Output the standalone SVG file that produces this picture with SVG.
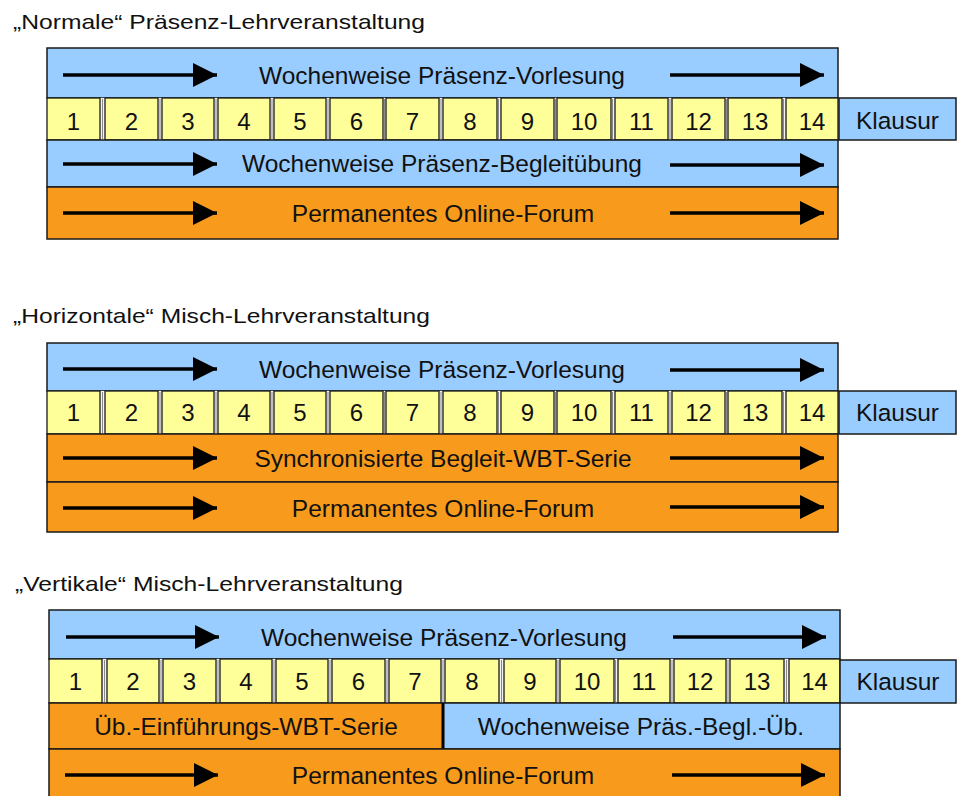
<svg xmlns="http://www.w3.org/2000/svg" width="957" height="796" viewBox="0 0 957 796">
<style>
.t{font-family:"Liberation Sans",Arial,sans-serif;fill:#111;}
.title{font-size:21px;}
.band{font-size:24.5px;text-anchor:middle;}
.num{font-size:24px;text-anchor:middle;}
.blue{fill:#99CCFF;stroke:#1a1a1a;stroke-width:1.5;}
.orange{fill:#F89A1C;stroke:#1a1a1a;stroke-width:1.5;}
.yel{fill:#FFFF99;stroke:#1a1a1a;stroke-width:1.3;}
.gap{fill:#f2f2f2;stroke:none;}
.gl{stroke:#8a8a8a;stroke-width:1;}
.arr{stroke:#000;stroke-width:3.5;fill:none;marker-end:url(#ah);}
</style>
<defs>
<marker id="ah" markerUnits="userSpaceOnUse" markerWidth="24" markerHeight="24" viewBox="0 0 22 22" refX="22" refY="11" orient="auto">
<path d="M0,0 L22,11 L0,22 Z" fill="#000"/>
</marker>
</defs>
<rect width="957" height="796" fill="#fff"/>

<!-- Section 1 -->
<g id="title1"><text class="t title" x="13" y="29" textLength="412" lengthAdjust="spacingAndGlyphs">„Normale“ Präsenz-Lehrveranstaltung</text></g>
<g id="s1-vorlesung"><rect class="blue" x="47" y="48" width="791" height="50"/><text class="t band" x="442" y="84">Wochenweise Präsenz-Vorlesung</text></g>
<g id="s1-numbers">
<rect class="gap" x="47" y="98" width="791" height="42"/>
<g class="gl"><line x1="102.5" y1="99" x2="102.5" y2="139"/><line x1="160" y1="99" x2="160" y2="139"/><line x1="216" y1="99" x2="216" y2="139"/><line x1="272" y1="99" x2="272" y2="139"/><line x1="328" y1="99" x2="328" y2="139"/><line x1="384.5" y1="99" x2="384.5" y2="139"/><line x1="441" y1="99" x2="441" y2="139"/><line x1="498.5" y1="99" x2="498.5" y2="139"/><line x1="555.5" y1="99" x2="555.5" y2="139"/><line x1="612.5" y1="99" x2="612.5" y2="139"/><line x1="670" y1="99" x2="670" y2="139"/><line x1="726.5" y1="99" x2="726.5" y2="139"/><line x1="783.5" y1="99" x2="783.5" y2="139"/></g>
<g id="s1-w1"><rect class="yel" x="47" y="98" width="53" height="42"/><text class="t num" x="73.5" y="130">1</text></g>
<g id="s1-w2"><rect class="yel" x="105" y="98" width="53" height="42"/><text class="t num" x="131.5" y="130">2</text></g>
<g id="s1-w3"><rect class="yel" x="162" y="98" width="52" height="42"/><text class="t num" x="188" y="130">3</text></g>
<g id="s1-w4"><rect class="yel" x="218" y="98" width="52" height="42"/><text class="t num" x="244" y="130">4</text></g>
<g id="s1-w5"><rect class="yel" x="274" y="98" width="52" height="42"/><text class="t num" x="300" y="130">5</text></g>
<g id="s1-w6"><rect class="yel" x="330" y="98" width="53" height="42"/><text class="t num" x="356.5" y="130">6</text></g>
<g id="s1-w7"><rect class="yel" x="386" y="98" width="53" height="42"/><text class="t num" x="412.5" y="130">7</text></g>
<g id="s1-w8"><rect class="yel" x="443" y="98" width="54" height="42"/><text class="t num" x="470" y="130">8</text></g>
<g id="s1-w9"><rect class="yel" x="501" y="98" width="53" height="42"/><text class="t num" x="527.5" y="130">9</text></g>
<g id="s1-w10"><rect class="yel" x="557" y="98" width="54" height="42"/><text class="t num" x="584" y="130">10</text></g>
<g id="s1-w11"><rect class="yel" x="615" y="98" width="53" height="42"/><text class="t num" x="641.5" y="130">11</text></g>
<g id="s1-w12"><rect class="yel" x="672" y="98" width="53" height="42"/><text class="t num" x="698.5" y="130">12</text></g>
<g id="s1-w13"><rect class="yel" x="728" y="98" width="54" height="42"/><text class="t num" x="755" y="130">13</text></g>
<g id="s1-w14"><rect class="yel" x="786" y="98" width="52" height="42"/><text class="t num" x="812" y="130">14</text></g>
</g>
<g id="s1-klausur"><rect class="blue" x="839" y="98" width="117" height="42"/><text class="t band" x="897.5" y="129">Klausur</text></g>
<g id="s1-uebung"><rect class="blue" x="47" y="140" width="791" height="47"/><text class="t band" x="442" y="172">Wochenweise Präsenz-Begleitübung</text></g>
<g id="s1-forum"><rect class="orange" x="47" y="187" width="791" height="52"/><text class="t band" x="443" y="222">Permanentes Online-Forum</text></g>

<!-- Section 2 -->
<g id="title2"><text class="t title" x="13" y="323" textLength="417" lengthAdjust="spacingAndGlyphs">„Horizontale“ Misch-Lehrveranstaltung</text></g>
<g id="s2-vorlesung"><rect class="blue" x="47" y="343" width="791" height="48"/><text class="t band" x="442" y="378">Wochenweise Präsenz-Vorlesung</text></g>
<g id="s2-numbers">
<rect class="gap" x="47" y="391" width="791" height="43"/>
<g class="gl"><line x1="102.5" y1="392" x2="102.5" y2="433"/><line x1="160" y1="392" x2="160" y2="433"/><line x1="216" y1="392" x2="216" y2="433"/><line x1="272" y1="392" x2="272" y2="433"/><line x1="328" y1="392" x2="328" y2="433"/><line x1="384.5" y1="392" x2="384.5" y2="433"/><line x1="441" y1="392" x2="441" y2="433"/><line x1="498.5" y1="392" x2="498.5" y2="433"/><line x1="555.5" y1="392" x2="555.5" y2="433"/><line x1="612.5" y1="392" x2="612.5" y2="433"/><line x1="670" y1="392" x2="670" y2="433"/><line x1="726.5" y1="392" x2="726.5" y2="433"/><line x1="783.5" y1="392" x2="783.5" y2="433"/></g>
<g id="s2-w1"><rect class="yel" x="47" y="391" width="53" height="43"/><text class="t num" x="73.5" y="421">1</text></g>
<g id="s2-w2"><rect class="yel" x="105" y="391" width="53" height="43"/><text class="t num" x="131.5" y="421">2</text></g>
<g id="s2-w3"><rect class="yel" x="162" y="391" width="52" height="43"/><text class="t num" x="188" y="421">3</text></g>
<g id="s2-w4"><rect class="yel" x="218" y="391" width="52" height="43"/><text class="t num" x="244" y="421">4</text></g>
<g id="s2-w5"><rect class="yel" x="274" y="391" width="52" height="43"/><text class="t num" x="300" y="421">5</text></g>
<g id="s2-w6"><rect class="yel" x="330" y="391" width="53" height="43"/><text class="t num" x="356.5" y="421">6</text></g>
<g id="s2-w7"><rect class="yel" x="386" y="391" width="53" height="43"/><text class="t num" x="412.5" y="421">7</text></g>
<g id="s2-w8"><rect class="yel" x="443" y="391" width="54" height="43"/><text class="t num" x="470" y="421">8</text></g>
<g id="s2-w9"><rect class="yel" x="501" y="391" width="53" height="43"/><text class="t num" x="527.5" y="421">9</text></g>
<g id="s2-w10"><rect class="yel" x="557" y="391" width="54" height="43"/><text class="t num" x="584" y="421">10</text></g>
<g id="s2-w11"><rect class="yel" x="615" y="391" width="53" height="43"/><text class="t num" x="641.5" y="421">11</text></g>
<g id="s2-w12"><rect class="yel" x="672" y="391" width="53" height="43"/><text class="t num" x="698.5" y="421">12</text></g>
<g id="s2-w13"><rect class="yel" x="728" y="391" width="54" height="43"/><text class="t num" x="755" y="421">13</text></g>
<g id="s2-w14"><rect class="yel" x="786" y="391" width="52" height="43"/><text class="t num" x="812" y="421">14</text></g>
</g>
<g id="s2-klausur"><rect class="blue" x="839" y="391" width="117" height="43"/><text class="t band" x="897.5" y="421">Klausur</text></g>
<g id="s2-wbt"><rect class="orange" x="47" y="434" width="791" height="48"/><text class="t band" x="443" y="467">Synchronisierte Begleit-WBT-Serie</text></g>
<g id="s2-forum"><rect class="orange" x="47" y="482" width="791" height="50"/><text class="t band" x="443" y="517">Permanentes Online-Forum</text></g>

<!-- Section 3 -->
<g id="title3"><text class="t title" x="15" y="591" textLength="388" lengthAdjust="spacingAndGlyphs">„Vertikale“ Misch-Lehrveranstaltung</text></g>
<g id="s3-vorlesung"><rect class="blue" x="49" y="610" width="791" height="49"/><text class="t band" x="444" y="646">Wochenweise Präsenz-Vorlesung</text></g>
<g id="s3-numbers">
<rect class="gap" x="49" y="659" width="791" height="44"/>
<g class="gl"><line x1="104.5" y1="660" x2="104.5" y2="702"/><line x1="161" y1="660" x2="161" y2="702"/><line x1="218" y1="660" x2="218" y2="702"/><line x1="274" y1="660" x2="274" y2="702"/><line x1="330" y1="660" x2="330" y2="702"/><line x1="387" y1="660" x2="387" y2="702"/><line x1="443" y1="660" x2="443" y2="702"/><line x1="501.5" y1="660" x2="501.5" y2="702"/><line x1="558" y1="660" x2="558" y2="702"/><line x1="615.5" y1="660" x2="615.5" y2="702"/><line x1="672" y1="660" x2="672" y2="702"/><line x1="728" y1="660" x2="728" y2="702"/><line x1="786.5" y1="660" x2="786.5" y2="702"/></g>
<g id="s3-w1"><rect class="yel" x="49" y="659" width="53" height="44"/><text class="t num" x="75.5" y="690">1</text></g>
<g id="s3-w2"><rect class="yel" x="107" y="659" width="52" height="44"/><text class="t num" x="133" y="690">2</text></g>
<g id="s3-w3"><rect class="yel" x="163" y="659" width="53" height="44"/><text class="t num" x="189.5" y="690">3</text></g>
<g id="s3-w4"><rect class="yel" x="220" y="659" width="52" height="44"/><text class="t num" x="246" y="690">4</text></g>
<g id="s3-w5"><rect class="yel" x="276" y="659" width="52" height="44"/><text class="t num" x="302" y="690">5</text></g>
<g id="s3-w6"><rect class="yel" x="332" y="659" width="53" height="44"/><text class="t num" x="358.5" y="690">6</text></g>
<g id="s3-w7"><rect class="yel" x="389" y="659" width="52" height="44"/><text class="t num" x="415" y="690">7</text></g>
<g id="s3-w8"><rect class="yel" x="445" y="659" width="54" height="44"/><text class="t num" x="472" y="690">8</text></g>
<g id="s3-w9"><rect class="yel" x="504" y="659" width="52" height="44"/><text class="t num" x="530" y="690">9</text></g>
<g id="s3-w10"><rect class="yel" x="560" y="659" width="54" height="44"/><text class="t num" x="587" y="690">10</text></g>
<g id="s3-w11"><rect class="yel" x="618" y="659" width="52" height="44"/><text class="t num" x="644" y="690">11</text></g>
<g id="s3-w12"><rect class="yel" x="674" y="659" width="52" height="44"/><text class="t num" x="700" y="690">12</text></g>
<g id="s3-w13"><rect class="yel" x="730" y="659" width="54" height="44"/><text class="t num" x="757" y="690">13</text></g>
<g id="s3-w14"><rect class="yel" x="789" y="659" width="51" height="44"/><text class="t num" x="814.5" y="690">14</text></g>
</g>
<g id="s3-klausur"><rect class="blue" x="840" y="660" width="116" height="43"/><text class="t band" x="898" y="690">Klausur</text></g>
<g id="s3-wbt"><rect class="orange" x="49" y="703" width="394" height="46"/><text class="t band" x="246" y="735">Üb.-Einführungs-WBT-Serie</text></g>
<g id="s3-uebung"><rect class="blue" x="443" y="703" width="397" height="46"/><text class="t band" x="641" y="735">Wochenweise Präs.-Begl.-Üb.</text></g>
<line x1="443" y1="703" x2="443" y2="749" stroke="#000" stroke-width="3"/>
<g id="s3-forum"><rect class="orange" x="49" y="749" width="791" height="52"/><text class="t band" x="443" y="784">Permanentes Online-Forum</text></g>

<!-- Arrows -->
<g id="arrows">
<line class="arr" x1="63" y1="75" x2="217" y2="75"/>
<line class="arr" x1="670" y1="75" x2="824" y2="75"/>
<line class="arr" x1="63" y1="164" x2="217" y2="164"/>
<line class="arr" x1="670" y1="165" x2="824" y2="165"/>
<line class="arr" x1="63" y1="213" x2="217" y2="213"/>
<line class="arr" x1="670" y1="213" x2="824" y2="213"/>
<line class="arr" x1="63" y1="369" x2="217" y2="369"/>
<line class="arr" x1="670" y1="370" x2="824" y2="370"/>
<line class="arr" x1="63" y1="458" x2="217" y2="458"/>
<line class="arr" x1="670" y1="458" x2="824" y2="458"/>
<line class="arr" x1="63" y1="508" x2="217" y2="508"/>
<line class="arr" x1="670" y1="507" x2="824" y2="507"/>
<line class="arr" x1="66" y1="637" x2="219" y2="637"/>
<line class="arr" x1="673" y1="637" x2="826" y2="637"/>
<line class="arr" x1="65" y1="775" x2="218" y2="775"/>
<line class="arr" x1="672" y1="775" x2="825" y2="775"/>
</g>
</svg>
